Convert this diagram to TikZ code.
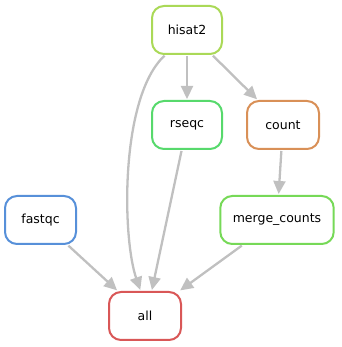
\documentclass[tikz,border=0pt]{standalone}
\usepackage{fontspec}
\setmainfont{DejaVu Sans}
\usetikzlibrary{positioning,arrows.meta}

\definecolor{cHisat}{RGB}{170,217,87}
\definecolor{cRseqc}{RGB}{87,217,108}
\definecolor{cCount}{RGB}{217,144,87}
\definecolor{cFastqc}{RGB}{87,144,217}
\definecolor{cMerge}{RGB}{118,217,87}
\definecolor{cAll}{RGB}{217,87,87}
\definecolor{edgegray}{RGB}{192,192,192}

\tikzset{
	rule/.style={draw=#1, line width=2pt, rounded corners=12pt, fill=white,
		minimum width=70pt, minimum height=48pt, inner xsep=12.5pt,
		font=\fontsize{12.5}{14}\selectfont},
	dep/.style={draw=edgegray, line width=2.3pt,
		-{Triangle[length=13pt,width=12pt]}, shorten <=1pt, shorten >=1pt},
}

\begin{document}
	\begin{tikzpicture}[x=1pt,y=1pt]
		\useasboundingbox (0,0) rectangle (341,347);
		
		\node[rule=cHisat] (hisat2) at (187,317) {hisat2};
		\node[rule=cRseqc, below=45pt of hisat2] (rseqc) {rseqc};
		\node[rule=cCount, right=23pt of rseqc, minimum width=72pt] (count) {count};
		\node[rule=cMerge, below=45pt of count, xshift=-6pt] (merge) {merge\_counts};
		\node[rule=cFastqc, minimum width=71pt] (fastqc) at (40.5,127) {fastqc};
		\node[rule=cAll, minimum width=72pt] (all) at (145,31) {all};
		
		\draw[dep] (hisat2) -- (rseqc);
		\draw[dep] (hisat2) -- (count);
		\draw[dep] (hisat2.-131) .. controls (120,250) and (122,110) .. (all.100);
		\draw[dep] (rseqc) -- (all.75);
		\draw[dep] (count) -- (merge);
		\draw[dep] (merge) -- (all);
		\draw[dep] (fastqc) -- (all);
	\end{tikzpicture}
\end{document}
